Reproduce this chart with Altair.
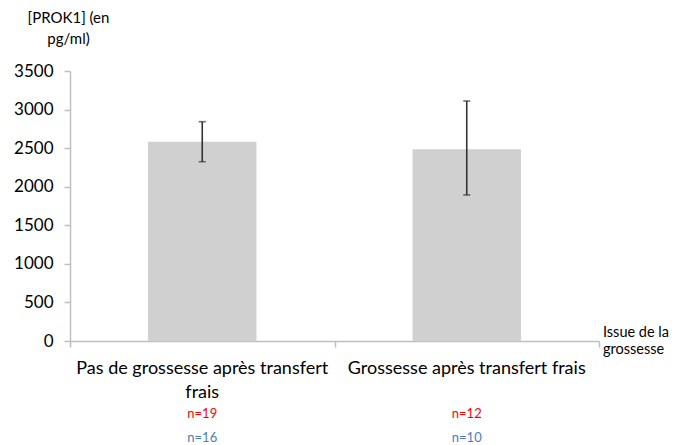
import altair as alt
import pandas as pd

categories = ["Pas de grossesse après transfert frais", "Grossesse après transfert frais"]
cat_labels = ["Pas de grossesse après transfert\nfrais", "Grossesse après transfert frais"]
means = [2583, 2485]
err_high = [2843, 3111]
err_low = [2324, 1893]
n_red = ["n=19", "n=12"]
n_blue = ["n=16", "n=10"]
y_ticks = [0, 500, 1000, 1500, 2000, 2500, 3000, 3500]

df = pd.DataFrame({
    "cat": categories,
    "label": cat_labels,
    "mean": means,
    "hi": err_high,
    "lo": err_low,
    "nr": n_red,
    "nb": n_blue,
})

FONT = "Lato"

x_axis = alt.Axis(title=None, labels=False, tickBand="extent", tickSize=6,
                  tickColor="#bfbfbf", domainColor="#bfbfbf", domainWidth=1.5,
                  tickWidth=1.5, grid=False)
x_scale = alt.Scale(paddingInner=0, paddingOuter=0)
y_scale = alt.Scale(domain=[0, 3500], nice=False)
y_axis = alt.Axis(values=y_ticks, format="d", labelOverlap=False, tickCount=8,
                  title=["[PROK1] (en", "pg/ml)"],
                  titleAngle=0, titleAlign="center", titleBaseline="alphabetic",
                  titleX=-2, titleY=-49, titleFontSize=15, titleFont=FONT,
                  titleFontWeight="normal", titleLineHeight=21,
                  labelFontSize=17, labelFont=FONT, labelColor="#000",
                  labelPadding=11, tickSize=6, tickColor="#bfbfbf",
                  domainColor="#bfbfbf", domainWidth=1.5, tickWidth=1.5,
                  grid=False)


def X():
    return alt.X("cat:N", sort=categories, scale=x_scale, axis=x_axis)


def Y(field):
    return alt.Y(field, scale=y_scale, axis=y_axis)


base = alt.Chart(df)

bars = base.mark_bar(width=alt.RelativeBandSize(0.41), color="#d0d0d0").encode(
    x=X(), y=Y("mean:Q"))

rule = base.mark_rule(color="#333333", strokeWidth=1.6).encode(
    x=X(), y=Y("lo:Q"), y2="hi:Q")
cap_hi = base.mark_tick(color="#333333", thickness=1.6, size=7, orient="horizontal").encode(
    x=X(), y=Y("hi:Q"))
cap_lo = base.mark_tick(color="#333333", thickness=1.6, size=7, orient="horizontal").encode(
    x=X(), y=Y("lo:Q"))

lab = base.mark_text(font=FONT, fontSize=18, color="#000", baseline="alphabetic",
                     lineBreak="\n", lineHeight=24).encode(
    x=X(), y=alt.value(303), text="label:N")
nr = base.mark_text(font=FONT, fontSize=13, color="#ff0000", baseline="alphabetic").encode(
    x=X(), y=alt.value(347), text="nr:N")
nb = base.mark_text(font=FONT, fontSize=13, color="#4a7ebb", baseline="alphabetic").encode(
    x=X(), y=alt.value(371), text="nb:N")

xt = alt.Chart(pd.DataFrame({"t": ["Issue de la\ngrossesse"]})).mark_text(
    font=FONT, fontSize=14.5, color="#000", align="left", baseline="alphabetic",
    lineBreak="\n", lineHeight=17).encode(
    x=alt.value(533), y=alt.value(266), text="t:N")

chart = alt.layer(bars, rule, cap_hi, cap_lo, lab, nr, nb, xt).properties(
    width=529, height=270,
    padding={"left": 62, "top": 63, "right": 70, "bottom": 104},
    autosize=alt.AutoSizeParams(type="none"),
).configure_view(stroke=None)

chart.save("out.html", embed_options={"renderer": "svg", "actions": False})
